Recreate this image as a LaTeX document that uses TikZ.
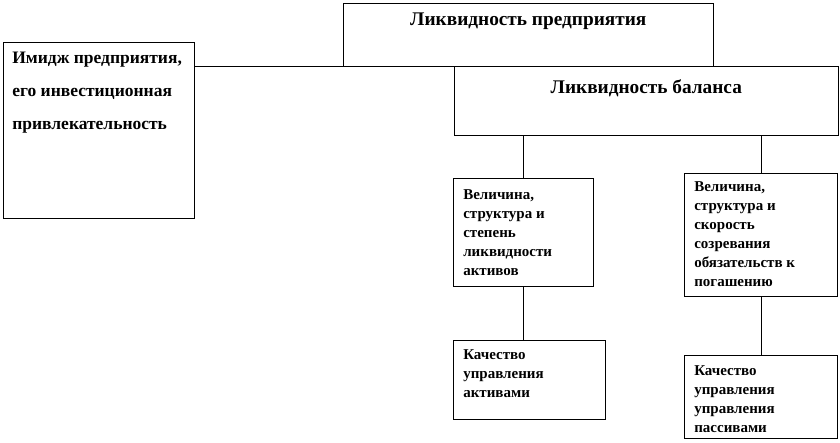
\documentclass[tikz,border=0pt]{standalone}
\usepackage{fontspec}
\setmainfont{Liberation Serif}
\usetikzlibrary{positioning}

\begin{document}
\begin{tikzpicture}[x=1pt, y=-1pt,
        box/.style={draw, line width=0.6pt, fill=white, anchor=north west, inner xsep=10pt, inner ysep=10pt},
        big/.style={font=\fontsize{19.3}{22}\selectfont\bfseries},
        mid/.style={font=\fontsize{17.5}{33}\selectfont\bfseries},
        small/.style={font=\fontsize{15}{19}\selectfont\bfseries},
        link/.style={line width=0.6pt}
      ]
      \useasboundingbox (0,0) rectangle (840,442);

      % top row
      \node[box, mid, inner xsep=9pt, inner ysep=10pt] (image) at (3,42)
        {\parbox[t][156pt][t]{173pt}{\raggedright Имидж предприятия,\\его инвестиционная\\привлекательность}};
      \node[box, big, inner ysep=10pt] (firm) at (343,3)
        {\parbox[t][43pt][t]{350pt}{\centering Ликвидность предприятия}};
      \node[box, big, inner ysep=13pt] (balance) at (454,66)
        {\parbox[t][43pt][t]{364pt}{\centering Ликвидность баланса}};
      \draw[link] (image.east |- firm.south west) -- (firm.south west);

      % assets branch
      \node[box, small, inner ysep=11pt] (assets) at (453,178)
        {\parbox[t][86pt][t]{120pt}{\raggedright Величина,\\структура и\\степень\\ликвидности\\активов}};
      \node[box, small, inner ysep=9pt] (assetmgmt) at (453,340)
        {\parbox[t][61pt][t]{132pt}{\raggedright Качество\\управления\\активами}};
      \draw[link] (balance.south -| assets.north) -- (assets.north);
      \draw[link] (assets.south) -- (assets.south |- assetmgmt.north);

      % liabilities branch
      \node[box, small, inner ysep=8pt] (debts) at (684,173)
        {\parbox[t][107pt][t]{133pt}{\raggedright Величина,\\структура и\\скорость\\созревания\\обязательств к\\погашению}};
      \node[box, small, inner ysep=10pt] (debtmgmt) at (684,355)
        {\parbox[t][63pt][t]{133pt}{\raggedright Качество\\управления\\управления\\пассивами}};
      \draw[link] (balance.south -| debts.north) -- (debts.north);
      \draw[link] (debts.south) -- (debts.south |- debtmgmt.north);
    \end{tikzpicture}
\end{document}
